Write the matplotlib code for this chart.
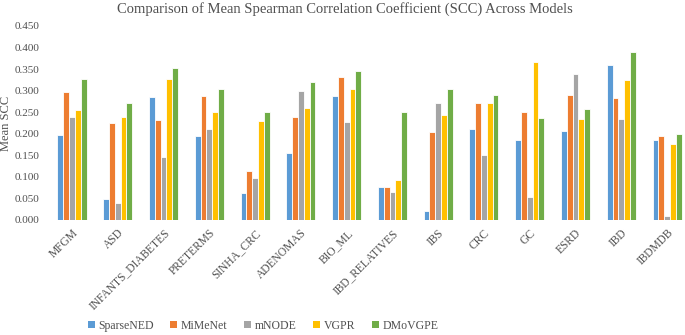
import numpy as np
import matplotlib
matplotlib.use('Agg')
import matplotlib.pyplot as plt
from matplotlib.patches import Patch

plt.rcParams['font.family'] = ['Liberation Serif', 'DejaVu Serif']

# ---- data ----
datasets = ['MFGM', 'ASD', 'INFANTS_DIABETES', 'PRETERMS', 'SINHA_CRC', 'ADENOMAS',
            'BIO_ML', 'IBD_RELATIVES', 'IBS', 'CRC', 'GC', 'ESRD', 'IBD', 'IBDMDB']
models = ['SparseNED', 'MiMeNet', 'mNODE', 'VGPR', 'DMoVGPE']

sparsened = [0.197, 0.048, 0.285, 0.194, 0.063, 0.155, 0.288, 0.076, 0.021, 0.210, 0.186, 0.206, 0.360, 0.186]
mimenet   = [0.296, 0.224, 0.231, 0.287, 0.114, 0.238, 0.332, 0.076, 0.205, 0.271, 0.251, 0.291, 0.283, 0.195]
mnode     = [0.240, 0.039, 0.145, 0.212, 0.097, 0.299, 0.227, 0.065, 0.271, 0.150, 0.053, 0.339, 0.235, 0.009]
vgpr      = [0.255, 0.239, 0.328, 0.251, 0.230, 0.260, 0.304, 0.093, 0.243, 0.271, 0.366, 0.234, 0.324, 0.176]
dmovgpe   = [0.326, 0.271, 0.353, 0.303, 0.251, 0.319, 0.345, 0.251, 0.305, 0.289, 0.237, 0.257, 0.390, 0.199]

yticks = np.arange(0, 0.451, 0.05)

colors = ['#5B9BD5', '#ED7D31', '#A5A5A5', '#FFC000', '#70AD47']
txt_color = '#505050'

fig = plt.figure(figsize=(6.85, 3.35), dpi=100)
ax = fig.add_axes([0.0717, 0.3433, 0.9355, 0.5791])

series = [sparsened, mimenet, mnode, vgpr, dmovgpe]
x = np.arange(len(datasets))
width = 0.127
for i, vals in enumerate(series):
    offset = (i - 2) * width
    ax.bar(x + offset, vals, width, color=colors[i], edgecolor='white', linewidth=0.6, zorder=3)

ax.set_xlim(-0.5, len(datasets) - 0.5)
ax.set_ylim(0, 0.45)
ax.set_yticks(yticks)
ax.set_yticklabels([f'{v:.3f}' for v in yticks], fontsize=8, color=txt_color)
ax.set_xticks(x)
ax.set_xticklabels(datasets, rotation=45, ha='right', rotation_mode='anchor',
                   fontsize=8.3, color=txt_color)
ax.tick_params(axis='y', length=0, pad=7)
ax.tick_params(axis='x', length=0, pad=5)
for s in ax.spines.values():
    s.set_visible(False)

# y label placed in figure coords so it stays inside the canvas
fig.text(6 / 685, 0.632, 'Mean SCC', rotation=90, ha='center', va='center',
         fontsize=9, color=txt_color)
fig.text(0.503, 0.972, 'Comparison of Mean Spearman Correlation Coefficient (SCC) Across Models',
         ha='center', va='center', fontsize=10.5, color=txt_color)

handles = [Patch(facecolor=c, edgecolor='none') for c in colors]
fig.legend(handles, models, loc='center', bbox_to_anchor=(0.384, 0.028), ncol=5,
           frameon=False, fontsize=8.5, handlelength=0.6, handleheight=0.6,
           handletextpad=0.3, columnspacing=1.4, labelcolor=txt_color)

fig.savefig('out.png', dpi=100)
